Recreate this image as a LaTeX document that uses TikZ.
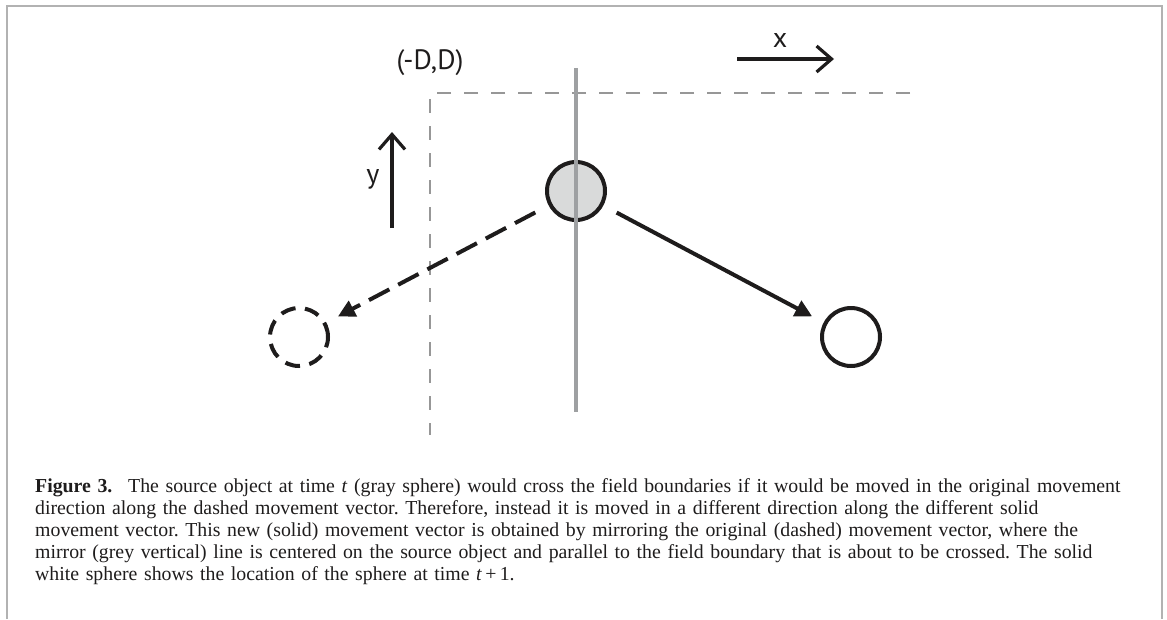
\documentclass[tikz,border=0pt]{standalone}
\usepackage{fontspec}
\setmainfont{Liberation Serif}
\newfontfamily\labelfont{PT Sans}
\usepackage{xcolor}
\usetikzlibrary{arrows.meta, positioning, calc}
\definecolor{framegray}{RGB}{178,178,178}
\definecolor{mirrorgray}{RGB}{158,160,162}
\definecolor{spherefill}{RGB}{217,218,218}
\definecolor{inkblack}{RGB}{30,28,28}
\tikzset{
  sphere/.style={circle, draw=inkblack, line width=4pt, minimum size=58pt, inner sep=0pt},
  gsphere/.style={sphere, fill=spherefill},
  dsphere/.style={sphere, dash pattern=on 15pt off 9.5pt},
  bound/.style={framegray!85!black, line width=2pt, dash pattern=on 14pt off 13pt},
  axis/.style={-{Straight Barb[length=15pt, width=26pt]}, line width=3.2pt, inkblack},
  mvec/.style={-{Triangle[length=17pt, width=17pt]}, line width=4pt, inkblack,
    shorten <=15pt, shorten >=13pt},
  axlbl/.style={font=\labelfont\fontsize{28}{30}\selectfont, text=inkblack, inner sep=0pt},
  captext/.style={font=\fontsize{19.8}{22.2}\selectfont\frenchspacing, text=inkblack, align=left,
    text width=1115pt, inner sep=0pt, anchor=north west}
}

\begin{document}
\begin{tikzpicture}[x=1pt, y=-1pt]
  \useasboundingbox (0,0) rectangle (1167,619);
  % frame
  \draw[framegray, line width=2pt] (7,619) -- (7,6) -- (1162,6) -- (1162,619);
  % field boundary
  \draw[bound] (910,93) -- (430,93) -- (430,435);
  \node[axlbl] (corner) at (430,63) {(-D,D)};
  % axes
  \coordinate (xs) at (737,59);
  \coordinate (xe) at (834,59);
  \draw[axis] (xs) -- (xe);
  \node[axlbl] (xl) at (780,40) {x};
  \coordinate (ys) at (392,228);
  \coordinate (ye) at (392,132);
  \draw[axis] (ys) -- (ye);
  \node[axlbl] (yl) at (373,179) {y};
  % spheres
  \node[gsphere] (src) at (576,191) {};
  \node[dsphere] (orig) at (299,337) {};
  \node[sphere] (dst) at (851,337) {};
  % mirror line
  \coordinate (mtop) at (576,68);
  \coordinate (mbot) at (576,412);
  \draw[mirrorgray, line width=4.5pt] (mtop) -- (mbot);
  % movement vectors
  \draw[mvec, dash pattern=on 23pt off 10pt] (src) -- (orig);
  \draw[mvec] (src) -- (dst);
  % caption
  \node[captext] (caption) at (35,478) {\textbf{Figure 3.}\hspace{0.8em}The source object at time \textit{t} (gray sphere) would cross the field boundaries if it would be moved in the original movement\\
direction along the dashed movement vector. Therefore, instead it is moved in a different direction along the different solid\\
movement vector. This new (solid) movement vector is obtained by mirroring the original (dashed) movement vector, where the\\
mirror (grey vertical) line is centered on the source object and parallel to the field boundary that is about to be crossed. The solid\\
white sphere shows the location of the sphere at time \textit{t}\,+\,1.};
\end{tikzpicture}
\end{document}
